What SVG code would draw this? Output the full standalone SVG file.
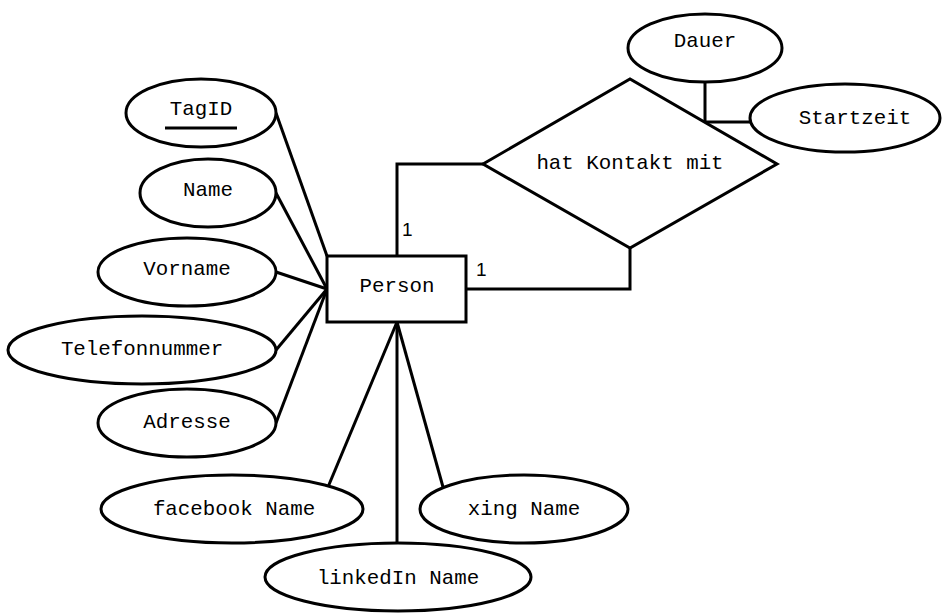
<svg xmlns="http://www.w3.org/2000/svg" width="952" height="615" viewBox="0 0 952 615">
<style>
.s{fill:#fff;stroke:#000;stroke-width:3}
.c{fill:none;stroke:#000;stroke-width:3}
.t{font-family:"Liberation Mono","Courier New",monospace;font-size:20.8px;fill:#000;text-anchor:middle;dominant-baseline:central}
.n{font-family:"Liberation Sans",Arial,sans-serif;font-size:19px;fill:#000}
</style>
<rect width="952" height="615" fill="#fff"/>
<g id="connectors">
<line class="c" x1="276" y1="113" x2="327" y2="256"/>
<line class="c" x1="276" y1="193" x2="327" y2="289"/>
<line class="c" x1="276" y1="272" x2="327" y2="289"/>
<line class="c" x1="276" y1="350" x2="327" y2="289"/>
<line class="c" x1="276" y1="423" x2="327" y2="289"/>
<line class="c" x1="328" y1="487" x2="397" y2="322"/>
<line class="c" x1="443" y1="487" x2="397" y2="322"/>
<line class="c" x1="397" y1="322" x2="397" y2="543"/>
<polyline class="c" points="397,256 397,164 483,164"/>
<polyline class="c" points="466,289 630,289 630,248"/>
<polyline class="c" points="705,82 705,122 750,122"/>
<text class="n" x="402" y="236">1</text>
<text class="n" x="476" y="276">1</text>
</g>
<g id="TagID"><ellipse class="s" cx="201" cy="113" rx="75" ry="34"/><text class="t" x="201" y="109">TagID</text><line class="c" x1="165" y1="128" x2="237" y2="128"/></g>
<g id="Name"><ellipse class="s" cx="208" cy="193" rx="68" ry="34"/><text class="t" x="208" y="190">Name</text></g>
<g id="Vorname"><ellipse class="s" cx="187" cy="272" rx="89" ry="34"/><text class="t" x="187" y="269">Vorname</text></g>
<g id="Telefonnummer"><ellipse class="s" cx="142" cy="350" rx="134" ry="34"/><text class="t" x="142" y="349">Telefonnummer</text></g>
<g id="Adresse"><ellipse class="s" cx="187" cy="423" rx="89" ry="34"/><text class="t" x="187" y="422">Adresse</text></g>
<g id="Person"><rect class="s" x="327" y="256" width="139" height="66"/><text class="t" x="397" y="286">Person</text></g>
<g id="hatKontaktMit"><polygon class="s" points="483,164 630,79 777,164 630,248"/><text class="t" x="630" y="163">hat Kontakt mit</text></g>
<g id="Dauer"><ellipse class="s" cx="705" cy="48" rx="77" ry="34"/><text class="t" x="705" y="41">Dauer</text></g>
<g id="Startzeit"><ellipse class="s" cx="845" cy="118" rx="95" ry="34"/><text class="t" x="855" y="118">Startzeit</text></g>
<g id="facebookName"><ellipse class="s" cx="232" cy="509" rx="131" ry="34"/><text class="t" x="234" y="509">facebook Name</text></g>
<g id="xingName"><ellipse class="s" cx="524" cy="509" rx="104" ry="34"/><text class="t" x="524" y="509">xing Name</text></g>
<g id="linkedInName"><ellipse class="s" cx="398" cy="577" rx="133" ry="34"/><text class="t" x="398" y="578">linkedIn Name</text></g>
</svg>
